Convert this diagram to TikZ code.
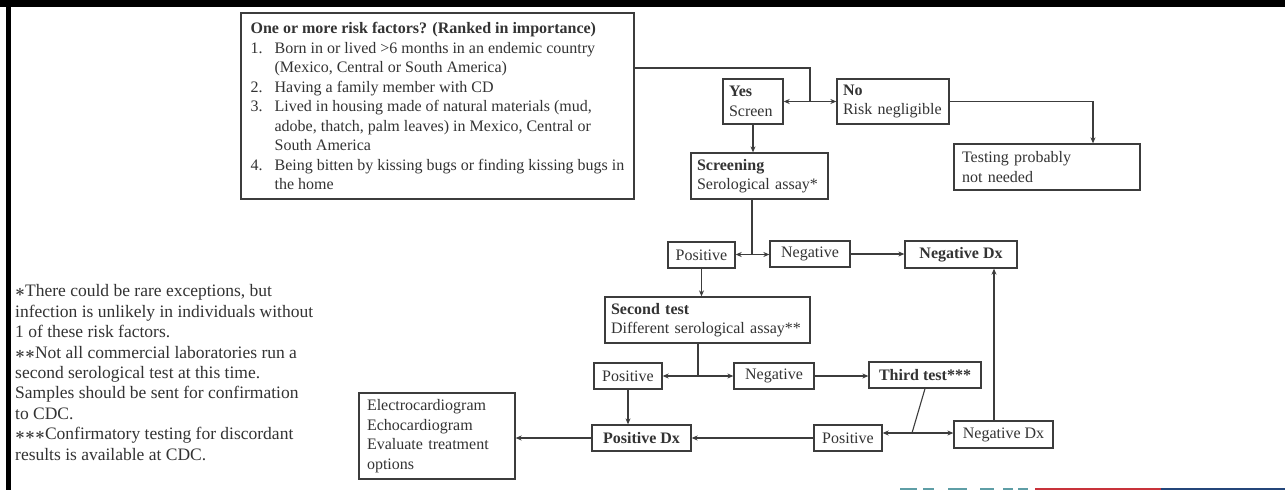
\documentclass[tikz,border=0pt]{standalone}
\usepackage{fontspec}
\setmainfont{Liberation Serif}
\usetikzlibrary{arrows.meta}
\definecolor{ink}{HTML}{333333}
\definecolor{edge}{HTML}{3C3C3C}
\definecolor{logored}{HTML}{C8323A}
\definecolor{logoblue}{HTML}{24467A}
\definecolor{logoteal}{HTML}{5E9EA6}
\newcommand\fnast{{\boldmath$\mathord{\ast}$}}
\begin{document}
\begin{tikzpicture}[x=1pt,y=-1pt,
  box/.style={draw=edge, line width=1.3pt, text=ink, font=\fontsize{16}{19.5}\selectfont, inner sep=0pt, align=left},
  cbox/.style={draw=edge, line width=1.3pt, text=ink, font=\fontsize{16}{19.5}\selectfont, inner sep=0pt, align=center},
  conn/.style={draw=edge, line width=1.1pt},
  arr/.style={conn, -{Stealth[length=6pt,width=5pt]}},
]
\useasboundingbox (0,0) rectangle (1285,490);
\fill[white] (0,0) rectangle (1285,490);
% frame
\fill[black] (0,0) rectangle (1285,7);
\fill[black] (6,0) rectangle (11,490);
% partial logo at bottom
\fill[logored] (1035,487.5) rectangle (1161,490);
\fill[logoblue] (1161,487.5) rectangle (1285,490);
\foreach \a/\b in {900/917,923/934,948/967,980/994,1003/1013,1018/1028}
  \fill[logoteal] (\a,488) rectangle (\b,490);

% boxes
\node[box, minimum width=393pt, minimum height=186pt] (risk) at (437.5,106) {%
\textbf{One or more risk factors? (Ranked in importance)}\\
\makebox[24pt][l]{1.}Born in or lived >6 months in an endemic country\\
\hspace*{24pt}(Mexico, Central or South America)\\
\makebox[24pt][l]{2.}Having a family member with CD\\
\makebox[24pt][l]{3.}Lived in housing made of natural materials (mud,\\
\hspace*{24pt}adobe, thatch, palm leaves) in Mexico, Central or\\
\hspace*{24pt}South America\\
\makebox[24pt][l]{4.}Being bitten by kissing bugs or finding kissing bugs in\\
\hspace*{24pt}the home};

\node[box, minimum width=60pt, minimum height=45pt, text width=48pt] (yes) at (753,101.5) {\textbf{Yes}\\Screen};
\node[box, minimum width=112pt, minimum height=45pt, text width=100pt] (no) at (893,101.5) {\textbf{No}\\Risk negligible};
\node[box, minimum width=186pt, minimum height=46pt, text width=170pt] (testing) at (1047,167) {Testing probably\\not needed};
\node[box, minimum width=137pt, minimum height=46pt, text width=125pt] (screening) at (759.5,176) {\textbf{Screening}\\Serological assay*};
\node[cbox, minimum width=67pt, minimum height=26pt] (pos1) at (701.5,255) {Positive};
\node[cbox, minimum width=80pt, minimum height=26pt] (neg1) at (810,254) {Negative};
\node[cbox, minimum width=112pt, minimum height=27pt] (negdx1) at (961,254.5) {\textbf{Negative Dx}};
\node[box, minimum width=205pt, minimum height=46pt, text width=193pt] (second) at (707.5,320) {\textbf{Second test}\\Different serological assay**};
\node[cbox, minimum width=68pt, minimum height=26pt] (pos2) at (628,376) {Positive};
\node[cbox, minimum width=80pt, minimum height=26pt] (neg2) at (774,376) {Negative};
\node[cbox, minimum width=112pt, minimum height=26pt] (third) at (925,375) {\textbf{Third test***}};
\node[cbox, minimum width=99pt, minimum height=26pt] (posdx) at (641.5,438) {\textbf{Positive Dx}};
\node[box, minimum width=156pt, minimum height=86pt, text width=140pt] (tests) at (437,436) {Electrocardiogram\\Echocardiogram\\Evaluate treatment\\options};
\node[cbox, minimum width=68pt, minimum height=26pt] (pos3) at (848,438) {Positive};
\node[cbox, minimum width=99pt, minimum height=27pt] (negdx2) at (1003.5,434.5) {Negative Dx};

% footnotes
\node[anchor=north west, text=ink, inner sep=0pt, align=left, font=\fontsize{17.5}{20.4}\selectfont] (notes) at (15,284.5) {%
\fnast There could be rare exceptions, but\\
infection is unlikely in individuals without\\
1 of these risk factors.\\
\fnast\fnast Not all commercial laboratories run a\\
second serological test at this time.\\
Samples should be sent for confirmation\\
to CDC.\\
\fnast\fnast\fnast Confirmatory testing for discordant\\
results is available at CDC.};

% junction coordinates
\coordinate (j1) at (810,101.5);
\coordinate (j2) at (752,254.5);
\coordinate (j3) at (698,376);
\coordinate (j4) at (912,433);

% connectors
\draw[conn] ([yshift=38pt]risk.east) -| (j1);
\draw[arr] (j1) -- (yes.east);
\draw[arr] (j1) -- (no.west);
\draw[arr] (no.east) -| ([xshift=46pt]testing.north);
\draw[arr] (yes.south) -- (yes.south |- screening.north);
\draw[conn] (j2 |- screening.south) -- (j2);
\draw[arr] (j2) -- (j2 -| pos1.east);
\draw[arr] (j2) -- (j2 -| neg1.west);
\draw[arr] (neg1.east) -- (neg1.east -| negdx1.west);
\draw[arr] (pos1.south) -- (pos1.south |- second.north);
\draw[conn] (j3 |- second.south) -- (j3);
\draw[arr] (j3) -- (j3 -| pos2.east);
\draw[arr] (j3) -- (j3 -| neg2.west);
\draw[arr] (neg2.east) -- (neg2.east -| third.west);
\draw[arr] (pos2.south) -- (pos2.south |- posdx.north);
\draw[arr] (posdx.west) -- (posdx.west -| tests.east);
\draw[conn] (third.south) -- (j4);
\draw[arr] (j4) -- (j4 -| pos3.east);
\draw[arr] (j4) -- (j4 -| negdx2.west);
\draw[arr] (pos3.west) -- (posdx.east);
\draw[arr] ([xshift=-9.5pt]negdx2.north) -- ([xshift=-9.5pt]negdx2.north |- negdx1.south);
\end{tikzpicture}
\end{document}
